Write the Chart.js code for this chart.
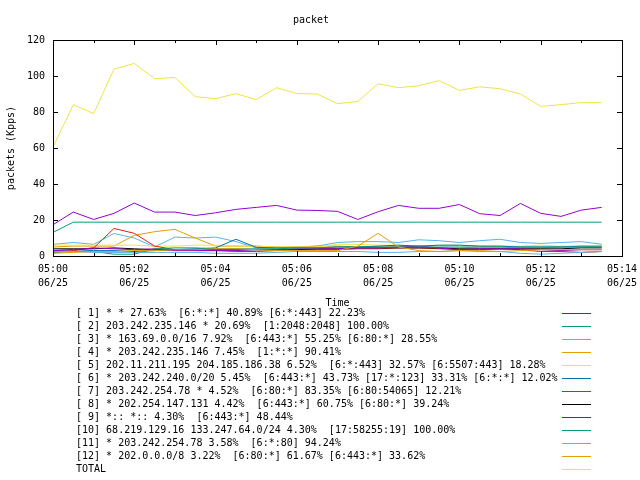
<!DOCTYPE html>
<html>
<head>
<meta charset="utf-8">
<script src="https://cdn.jsdelivr.net/npm/chart.js@4/dist/chart.umd.min.js"></script>
<style>
  html, body { margin: 0; padding: 0; background: #fff; }
  #wrap { width: 640px; height: 480px; }
</style>
</head>
<body>
<div id="wrap"><canvas id="chart" width="640" height="480"></canvas></div>
<script>
// minutes after 05:00 (one sample every 30 s)
const minutes = [0, 0.5, 1, 1.5, 2, 2.5, 3, 3.5, 4, 4.5, 5, 5.5, 6, 6.5,
                 7, 7.5, 8, 8.5, 9, 9.5, 10, 10.5, 11, 11.5, 12, 12.5, 13, 13.5];

const legendLabels = [
    "[ 1] * * 27.63%  [6:*:*] 40.89% [6:*:443] 22.23%",
    "[ 2] 203.242.235.146 * 20.69%  [1:2048:2048] 100.00%",
    "[ 3] * 163.69.0.0/16 7.92%  [6:443:*] 55.25% [6:80:*] 28.55%",
    "[ 4] * 203.242.235.146 7.45%  [1:*:*] 90.41%",
    "[ 5] 202.11.211.195 204.185.186.38 6.52%  [6:*:443] 32.57% [6:5507:443] 18.28%",
    "[ 6] * 203.242.240.0/20 5.45%  [6:443:*] 43.73% [17:*:123] 33.31% [6:*:*] 12.02%",
    "[ 7] 203.242.254.78 * 4.52%  [6:80:*] 83.35% [6:80:54065] 12.21%",
    "[ 8] * 202.254.147.131 4.42%  [6:443:*] 60.75% [6:80:*] 39.24%",
    "[ 9] *:: *:: 4.30%  [6:443:*] 48.44%",
    "[10] 68.219.129.16 133.247.64.0/24 4.30%  [17:58255:19] 100.00%",
    "[11] * 203.242.254.78 3.58%  [6:*:80] 94.24%",
    "[12] * 202.0.0.0/8 3.22%  [6:80:*] 61.67% [6:443:*] 33.62%",
    "TOTAL"
];

const colors = ["#9400d3", "#009e73", "#56b4e9", "#e69f00", "#f0e442", "#0072b2", "#e51e10",
                "#000000", "#9400d3", "#009e73", "#56b4e9", "#e69f00", "#f0e442"];

// packets (Kpps)
const s1  = [17.4, 24.4, 20.3, 23.7, 29.4, 24.4, 24.4, 22.5, 24.0, 25.9, 27.0, 28.1, 25.5, 25.3,
             24.8, 20.3, 24.6, 28.1, 26.5, 26.5, 28.6, 23.5, 22.5, 29.2, 23.7, 22.0, 25.5, 27.0];
const s2  = [13.1, 18.8, 18.8, 18.8, 18.8, 18.8, 18.8, 18.8, 18.8, 18.8, 18.8, 18.8, 18.8, 18.8,
             18.8, 18.8, 18.8, 18.8, 18.8, 18.8, 18.8, 18.8, 18.8, 18.8, 18.8, 18.8, 18.8, 18.8];
const s3  = [6.5, 7.5, 6.5, 12.5, 10, 5, 10.5, 10, 10.5, 8, 4.5, 4.5, 5, 5.5,
             7.5, 8, 8, 7.5, 9, 8.5, 7.5, 8.5, 9.3, 7.5, 7, 7.5, 8, 6.5];
const s4  = [5, 5.5, 5.5, 5.5, 11.5, 13.5, 14.8, 10, 5.5, 5.5, 5.5, 5, 5, 5.5,
             5.5, 5, 5, 5, 5, 4.5, 4.5, 5, 5, 4.5, 4.5, 5, 5, 5];
const s5  = [6, 6, 6, 6, 6, 5.5, 5.5, 6, 6, 5.5, 5.5, 5, 5, 5,
             6.5, 6.5, 6, 6, 5.5, 6, 6, 5.5, 5.5, 5.5, 6, 5.5, 5.5, 5];
const s6  = [3, 3.5, 3, 3, 2.5, 3, 3.5, 4, 4.5, 9.3, 4.8, 4.5, 4.5, 4.5,
             5, 5, 5.5, 6, 5.5, 6, 6, 5.5, 5.5, 5, 5, 5, 5.5, 5.5];
const s7  = [2, 3, 4.5, 15.3, 12.6, 5.5, 3.5, 3, 3, 2.5, 2.5, 3, 3.5, 3.5,
             3.5, 4, 4, 4.5, 4.5, 4, 3.5, 3.5, 4, 3.5, 2.5, 2.5, 2, 2.5];
const s8  = [4, 4, 4, 4.5, 4, 3.5, 3.5, 3.5, 3.5, 3.5, 3.5, 3.5, 3.5, 4,
             4, 4.5, 4.5, 4.5, 4.5, 4.5, 4, 4, 4, 4, 4, 4, 4.5, 4.5];
const s9  = [3, 3.5, 4.5, 4, 3.5, 4, 3, 3, 3, 3, 3.5, 3.5, 4, 4,
             4, 4.5, 4.5, 5, 5.5, 4.5, 3.5, 4, 4, 4, 3.5, 3, 3.5, 3.5];
const s10 = [2, 2.5, 2.5, 1, 1, 4, 4.5, 4.5, 4, 4, 4, 4, 4.5, 4.5,
             5, 5, 5, 5, 5, 5, 5, 5, 5, 5, 5, 5, 5, 5];
const s11 = [2.5, 2.5, 2, 2, 2, 2, 2, 2, 1.5, 1.5, 1.5, 2, 2.5, 2.5,
             2.5, 2.5, 2, 2, 2.5, 2.5, 3, 2.5, 2.5, 1.5, 1, 1.5, 2, 2.5];
const s12 = [1.5, 2, 2.5, 2.5, 3, 3, 3.5, 3.5, 4, 4, 3.5, 3, 3, 3,
             3, 5.5, 12.6, 5, 3, 2.5, 3, 3, 2.5, 3, 3.5, 3.5, 3.5, 3.5];
const total = [60.5, 84.1, 79.1, 103.8, 107.0, 98.5, 99.2, 88.5, 87.4, 90.2, 86.9, 93.5, 90.2, 90.0,
               84.6, 85.9, 95.7, 93.5, 94.6, 97.4, 92.0, 94.0, 92.9, 90.0, 83.1, 84.1, 85.2, 85.2];

const series = [s1, s2, s3, s4, s5, s6, s7, s8, s9, s10, s11, s12, total];

const FONT = "'DejaVu Sans Mono', 'Liberation Mono', monospace";

// gnuplot style frame with inward ticks + legend below the plot
const gnuplotDecor = {
    id: "gnuplotDecor",
    afterDatasetsDraw(chart) {
        const { ctx, chartArea: a, scales } = chart;
        ctx.save();
        ctx.strokeStyle = "#000";
        ctx.lineWidth = 1;
        ctx.strokeRect(Math.round(a.left) + 0.5, Math.round(a.top) + 0.5,
                       Math.round(a.right - a.left), Math.round(a.bottom - a.top));
        ctx.beginPath();
        for (let m = 1; m < 14; m++) {
            const x = Math.round(scales.x.getPixelForValue(m)) + 0.5;
            const len = m % 2 === 0 ? 5 : 3;
            ctx.moveTo(x, a.bottom); ctx.lineTo(x, a.bottom - len);
            ctx.moveTo(x, a.top); ctx.lineTo(x, a.top + len);
        }
        for (let v = 20; v < 120; v += 20) {
            const y = Math.round(scales.y.getPixelForValue(v)) + 0.5;
            ctx.moveTo(a.left, y); ctx.lineTo(a.left + 5, y);
            ctx.moveTo(a.right, y); ctx.lineTo(a.right - 5, y);
        }
        ctx.stroke();
        ctx.restore();
    },
    afterDraw(chart) {
        const { ctx } = chart;
        ctx.save();
        ctx.font = "10px " + FONT;
        ctx.textBaseline = "middle";
        ctx.fillStyle = "#000";
        chart.data.datasets.forEach((ds, i) => {
            const y = 313 + i * 13;
            ctx.fillText(ds.label, 76, y);
            ctx.strokeStyle = ds.borderColor;
            ctx.lineWidth = 1;
            ctx.beginPath();
            ctx.moveTo(562, y + 0.5);
            ctx.lineTo(591, y + 0.5);
            ctx.stroke();
        });
        ctx.restore();
    }
};

const ctx = document.getElementById("chart").getContext("2d");
new Chart(ctx, {
    type: "line",
    data: {
        datasets: series.map((vals, i) => ({
            label: legendLabels[i],
            data: vals.map((v, j) => ({ x: minutes[j], y: v })),
            borderColor: colors[i],
            borderWidth: 1,
            pointRadius: 0,
            tension: 0,
            fill: false,
            order: series.length - i
        }))
    },
    options: {
        responsive: false,
        animation: false,
        layout: { padding: { left: 0, right: 18, top: 0, bottom: 168 } },
        plugins: {
            legend: { display: false },
            tooltip: { enabled: false },
            title: {
                display: true,
                text: "packet",
                color: "#000",
                font: { family: FONT, size: 10, weight: "normal", lineHeight: 1.2 },
                padding: { top: 14, bottom: 14 }
            }
        },
        scales: {
            x: {
                type: "linear",
                min: 0,
                max: 14,
                grid: { display: false, drawTicks: false },
                border: { display: false },
                ticks: {
                    stepSize: 1,
                    autoSkip: false,
                    maxRotation: 0,
                    padding: 6,
                    color: "#000",
                    font: { family: FONT, size: 10, lineHeight: 1.4 },
                    callback: (v) => v % 2 === 0 ? ["05:" + String(v).padStart(2, "0"), "06/25"] : ""
                },
                title: {
                    display: true,
                    text: "Time",
                    color: "#000",
                    font: { family: FONT, size: 10, lineHeight: 1.2 },
                    padding: { top: 0, bottom: 3 }
                },
                afterFit: (scale) => {
                    scale.height = 56;
                    scale.paddingLeft = 0;
                    scale.paddingRight = 0;
                }
            },
            y: {
                min: 0,
                max: 120,
                grid: { display: false, drawTicks: false },
                border: { display: false },
                ticks: {
                    stepSize: 20,
                    padding: 8,
                    color: "#000",
                    font: { family: FONT, size: 10 }
                },
                title: {
                    display: true,
                    text: "packets (Kpps)",
                    color: "#000",
                    font: { family: FONT, size: 10, lineHeight: 1.2 },
                    padding: { top: 5, bottom: 0 }
                },
                afterFit: (scale) => {
                    scale.width = 53;
                    scale.paddingTop = 0;
                    scale.paddingBottom = 0;
                }
            }
        }
    },
    plugins: [gnuplotDecor]
});
</script>
</body>
</html>
